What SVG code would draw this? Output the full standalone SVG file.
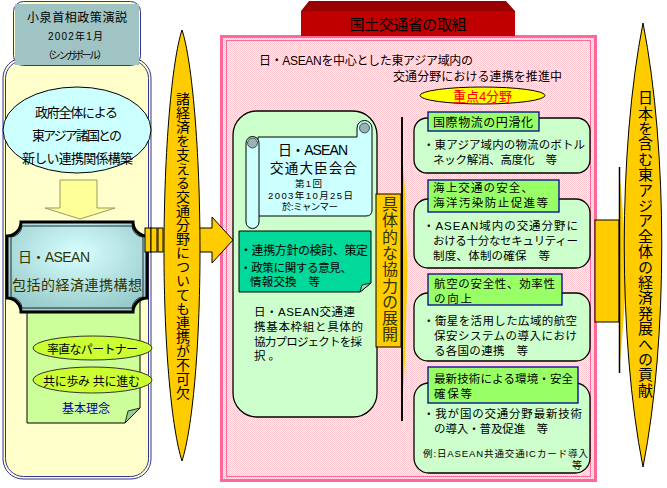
<svg xmlns="http://www.w3.org/2000/svg" width="667" height="488" viewBox="0 0 667 488">
<defs>
<style>
text{font-family:"Liberation Sans","Noto Sans CJK JP","Noto Sans CJK SC",sans-serif;fill:#000;font-size:12px}
.b{font-size:11.5px}
.t9{font-size:9.5px}
.t10{font-size:10px}
.t13{font-size:13px}
.t14{font-size:14px}
.vert{writing-mode:vertical-rl}
.mid{text-anchor:middle}
.box{fill:#CCFFCC;stroke:#000;stroke-width:1.3}
.title{fill:#99FF66;stroke:#000099;stroke-width:1.3}
.yel{fill:#FFCC00;stroke:#000;stroke-width:1}
.olive{fill:#333300}
</style>
<pattern id="pinkpat" width="2" height="2" patternUnits="userSpaceOnUse">
<rect width="2" height="2" fill="#FFF4F4"/>
<rect width="1" height="1" fill="#FFC4CC"/>
<rect x="1" y="1" width="1" height="1" fill="#FFC4CC"/>
</pattern>
<radialGradient id="plq" cx="0.5" cy="0.35" r="0.65">
<stop offset="0" stop-color="#D8FFFF"/>
<stop offset="1" stop-color="#99CCCC"/>
</radialGradient>
</defs>
<rect width="667" height="488" fill="#FFFFFF"/>

<g id="left-panel">
<rect x="3" y="58" width="148" height="421" rx="20" fill="#FFFFCC" stroke="#333399" stroke-width="1"/>
<rect x="5.5" y="60.5" width="143" height="416" rx="18" fill="none" stroke="#333399" stroke-width="1"/>
</g>

<g id="speech-label">
<rect x="13.5" y="1.5" width="127" height="64" rx="10" fill="#FFFFCC" stroke="#333399"/>
<rect x="15" y="4" width="124" height="61" fill="#A0C4C4"/>
<text x="27" y="22" textLength="100">小泉首相政策演説</text>
<text x="48" y="40" class="t10" textLength="55">2002年1月</text>
<text x="43" y="59" class="t10" textLength="64">（シンガポール）</text>
</g>

<g id="policy-ellipse">
<ellipse cx="77" cy="130" rx="74" ry="43" fill="#CCFFFF" stroke="#000"/>
<text x="35" y="117" class="t13" textLength="83">政府全体による</text>
<text x="32" y="140" class="t13" textLength="90">東アジア諸国との</text>
<text x="22" y="163" class="t13" textLength="111">新しい連携関係構築</text>
</g>

<g id="principles-note">
<path d="M27,300 L140,300 L140,408 L125,423 L27,423 Z" fill="#CCFF99" stroke="#000"/>
<path d="M140,408 L125,423 L128,411 Z" fill="#99CC99" stroke="#000" stroke-width="0.8"/>
<ellipse cx="92.5" cy="348" rx="59.5" ry="12" fill="#CCFF33" stroke="#333"/>
<text x="47" y="354" textLength="91">率直なパートナー</text>
<ellipse cx="92.5" cy="380" rx="59.5" ry="13" fill="#CCFF33" stroke="#333"/>
<text x="43" y="386" textLength="97">共に歩み 共に進む</text>
<text x="62" y="413" style="fill:#000099" textLength="48">基本理念</text>
</g>

<g id="plaque">
<path d="M21,222 L133,222 A14 14 0 0 0 147,236 L147,298 A14 14 0 0 0 133,312 L21,312 A14 14 0 0 0 7,298 L7,236 A14 14 0 0 0 21,222 Z" fill="url(#plq)" stroke="#000" stroke-width="3"/>
<path d="M22,226 L132,226 A12 12 0 0 0 143,237 L143,297 A12 12 0 0 0 132,308 L22,308 A12 12 0 0 0 11,297 L11,237 A12 12 0 0 0 22,226 Z" fill="none" stroke="#000" stroke-width="0.8"/>
<text x="18" y="262" class="t14 olive" textLength="72">日・ASEAN</text>
<text x="12" y="290" class="t14 olive" textLength="130">包括的経済連携構想</text>
</g>

<g id="down-arrow">
<polygon points="60,180 97,180 97,208 115,208 80,219 45,208 60,208" fill="#FFFF99" stroke="#999966"/>
</g>

<g id="pink-frame">
<rect x="221.5" y="36.5" width="374" height="444" fill="url(#pinkpat)" stroke="#FF6699" stroke-width="3"/>
<rect x="226.5" y="40.5" width="364" height="436" fill="none" stroke="#FF6699" stroke-width="1"/>
</g>

<g id="ministry-tab">
<polygon points="309,1 506,1 515,11 301,11" fill="#990000"/>
<rect x="301" y="11" width="214" height="25" fill="#C00000"/>
<text x="408" y="30" class="mid" style="font-size:15px" textLength="117">国土交通省の取組</text>
</g>

<g id="heading">
<text x="259" y="65" textLength="214">日・ASEANを中心とした東アジア域内の</text>
<text x="393" y="81" textLength="169">交通分野における連携を推進中</text>
</g>

<g id="focus-label">
<ellipse cx="482.5" cy="95.5" rx="62.5" ry="8.5" fill="#FFFF00" stroke="#000"/>
<text x="453" y="100.5" class="t13" style="fill:#FF0000" textLength="59">重点4分野</text>
</g>

<g id="connectors">
<rect x="145" y="228" width="6" height="24" class="yel"/>
<rect x="151" y="228" width="6" height="24" class="yel"/>
<rect x="158" y="228" width="5" height="24" class="yel"/>
<polygon points="196,228 212,228 212,217 233,240 212,263 212,252 196,252" class="yel"/>
<polygon points="402,152 405,190 407.5,270 405,360 402,410" fill="#FFCC00"/>
<line x1="402" y1="117" x2="402" y2="421" stroke="#000" stroke-width="2"/>
<rect x="595" y="220" width="24" height="102" class="yel"/>
<polygon points="619,167 622,200 627,270 622,340 619,373" fill="#FFCC00"/>
<line x1="619.5" y1="167" x2="619.5" y2="373" stroke="#000" stroke-width="1.5"/>
</g>

<g id="spire">
<path d="M182,30 C192,60 200,150 200,250 C200,350 192,430 182,461 C172,430 164,350 164,250 C164,150 172,60 182,30 Z" class="yel"/>
<text x="182" y="92" class="vert" style="font-size:14px">諸経済を支える交通分野についても連携が不可欠</text>
</g>

<g id="meeting-box">
<rect x="233" y="111" width="144" height="306" rx="24" class="box"/>
<path d="M258,137 L357,137 L357,128 A7.5 7.5 0 0 1 372,128 L372,210 Q372,216 366,216 L258,216 Z" fill="#CCFFCC" stroke="#000" style="fill:#CCFFFF"/>
<path d="M246,143 A6.5 6.5 0 0 1 259,143 L259,222 A6.5 6.5 0 0 1 246,222 Z" fill="#CCFFFF" stroke="#000"/>
<circle cx="252.5" cy="143" r="5" fill="#99B3B3" stroke="#000" stroke-width="0.6"/>
<circle cx="364.5" cy="128" r="5" fill="#99B3B3" stroke="#000" stroke-width="0.6"/>
<text x="278" y="155" class="t14" textLength="70">日・ASEAN</text>
<text x="270" y="173" style="font-size:13.5px" textLength="87">交通大臣会合</text>
<text x="295" y="186.5" class="t9" textLength="27">第1回</text>
<text x="268" y="198.5" class="t9" textLength="85">2003年10月25日</text>
<text x="282" y="210" class="t9" textLength="56">於:ミャンマー</text>
<path d="M239,231 L371,231 L371,283 L360,292 L239,292 Z" fill="#00D99A" stroke="#000"/>
<path d="M371,283 L360,292 L362,285 Z" fill="#99DDBB" stroke="#000" stroke-width="0.8"/>
<text x="240" y="255" textLength="128">・連携方針の検討、策定</text>
<text x="240" y="272" class="b" textLength="112">・政策に関する意見、</text>
<text x="250" y="286" class="b" textLength="70">情報交換　等</text>
<text x="254" y="316" class="b" textLength="101">日・ASEAN交通連</text>
<text x="254" y="331" class="b" textLength="109">携基本枠組と具体的</text>
<text x="254" y="345.5" class="b" textLength="108">協力プロジェクトを採</text>
<text x="254" y="360" class="b" textLength="26">択。</text>
</g>

<g id="cooperation-label">
<rect x="376" y="194" width="25" height="153" class="yel"/>
<text x="388.5" y="196" class="vert" style="font-size:16px;fill:#333300;letter-spacing:0.3px">具体的な協力の展開</text>
</g>

<g id="area-logistics">
<rect x="414" y="118" width="176" height="55" rx="13" class="box"/>
<rect x="428" y="112" width="111" height="19" class="title"/>
<text x="433" y="127" textLength="100">国際物流の円滑化</text>
<text x="423" y="149" class="b" textLength="162">・東アジア域内の物流のボトル</text>
<text x="433" y="163.5" class="b" textLength="124">ネック解消、高度化　等</text>
</g>

<g id="area-maritime">
<rect x="414" y="199" width="176" height="69" rx="14" class="box"/>
<rect x="428" y="180" width="131" height="32" class="title"/>
<text x="433" y="192" class="b" textLength="100">海上交通の安全、</text>
<text x="433" y="207" class="b" textLength="115">海洋汚染防止促進等</text>
<text x="423" y="230" class="b" textLength="155">・ASEAN域内の交通分野に</text>
<text x="433" y="245" class="b" textLength="145">おける十分なセキュリティー</text>
<text x="433" y="260" class="b" textLength="117">制度、体制の確保　等</text>
</g>

<g id="area-aviation">
<rect x="414" y="293" width="176" height="68" rx="14" class="box"/>
<rect x="428" y="274" width="134" height="31" class="title"/>
<text x="434" y="288" class="b" textLength="121">航空の安全性、効率性</text>
<text x="434" y="303" class="b" textLength="38">の向上</text>
<text x="423" y="325" class="b" textLength="154">・衛星を活用した広域的航空</text>
<text x="434" y="340" class="b" textLength="143">保安システムの導入におけ</text>
<text x="434" y="355" class="b" textLength="94">る各国の連携　等</text>
</g>

<g id="area-technology">
<rect x="414" y="383" width="176" height="90" rx="15" class="box"/>
<rect x="428" y="367" width="150" height="36" class="title"/>
<text x="434" y="383" class="b" textLength="139">最新技術による環境・安全</text>
<text x="434" y="398" class="b" textLength="38">確保等</text>
<text x="423" y="418" class="b" textLength="159">・我が国の交通分野最新技術</text>
<text x="434" y="432.5" class="b" textLength="114">の導入・普及促進　等</text>
<text x="423" y="457" class="t9" textLength="165">例:日ASEAN共通交通ICカード導入</text>
<text x="572" y="469" class="t10">等</text>
</g>

<g id="contribution">
<path d="M643,23 C668,150 668,340 643,467 C618,340 618,150 643,23 Z" class="yel"/>
<text x="644.5" y="90" class="vert" style="font-size:15px;letter-spacing:0.4px">日本を含む東アジア全体の経済発展への貢献</text>
</g>
</svg>
